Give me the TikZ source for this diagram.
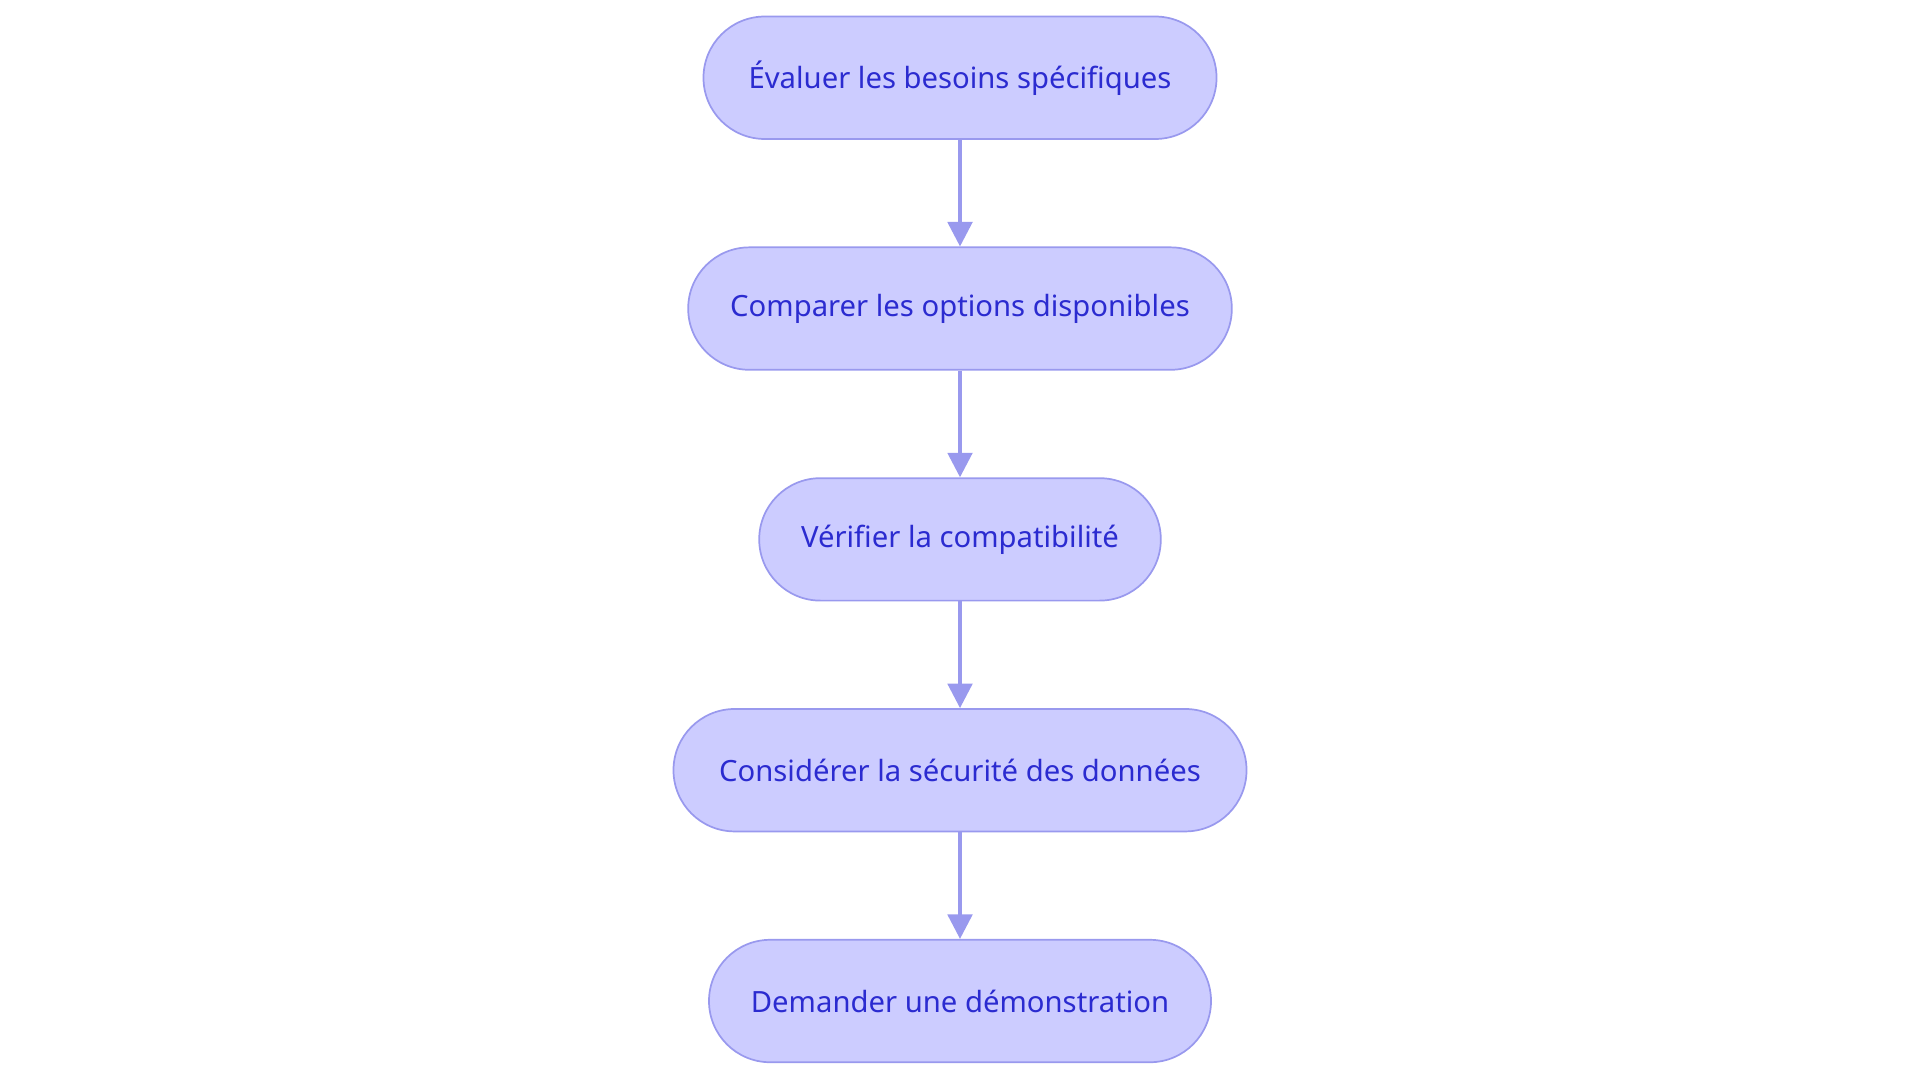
\documentclass[tikz,border=0pt]{standalone}
\usepackage{fontspec}
\setmainfont{Noto Sans}
\usetikzlibrary{arrows.meta}
\definecolor{fillc}{HTML}{CCCCFF}
\definecolor{linec}{HTML}{9999EE}
\definecolor{textc}{HTML}{2B2BD0}
\begin{document}
\begin{tikzpicture}[x=1cm,y=-1cm,
  box/.style={draw=linec,line width=0.4pt,fill=fillc,rounded corners=0.5cm,minimum height=1cm,inner sep=0pt,text=textc,font=\fontsize{6.8}{7.5}\selectfont},
  arr/.style={draw=linec,line width=0.85pt,-{Triangle[length=0.2cm,width=0.2cm]}}]
\useasboundingbox (0,0) rectangle (15.68,8.84);
\node[box,minimum width=4.19cm] (a) at (7.84,0.635) {Évaluer les besoins spécifiques};
\node[box,minimum width=4.44cm] (b) at (7.84,2.52) {Comparer les options disponibles};
\node[box,minimum width=3.28cm] (c) at (7.84,4.405) {Vérifier la compatibilité};
\node[box,minimum width=4.68cm] (d) at (7.84,6.29) {Considérer la sécurité des données};
\node[box,minimum width=4.10cm] (e) at (7.84,8.175) {Demander une démonstration};
\draw[arr] (a) -- (b);
\draw[arr] (b) -- (c);
\draw[arr] (c) -- (d);
\draw[arr] (d) -- (e);
\end{tikzpicture}
\end{document}
